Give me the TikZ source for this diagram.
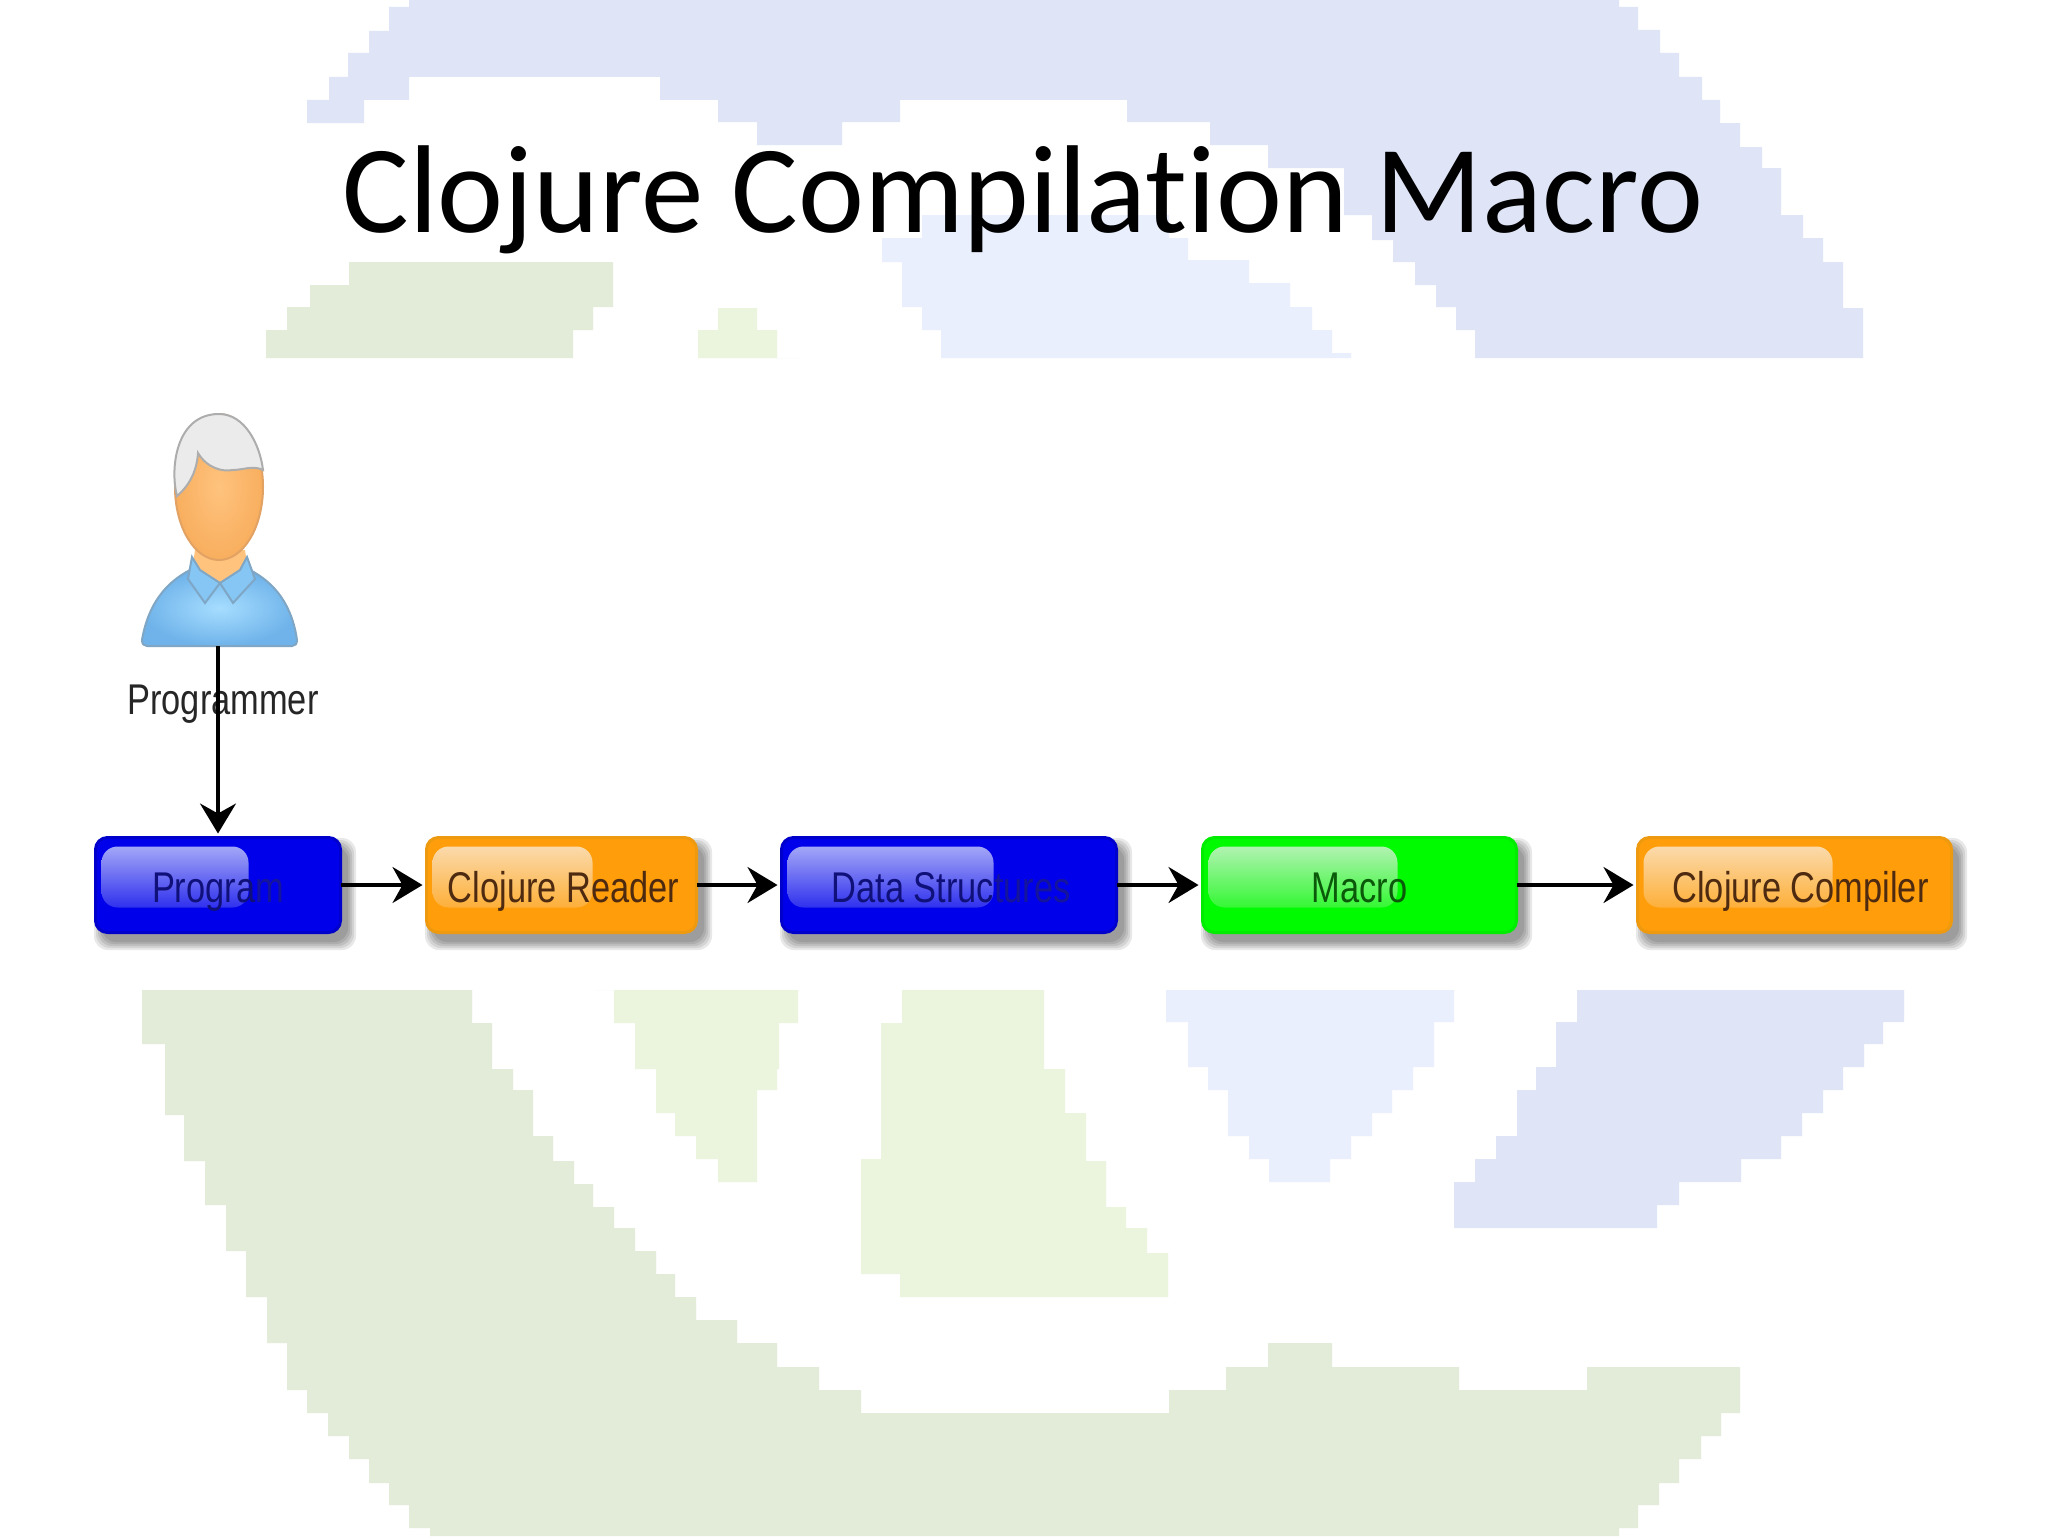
\documentclass[tikz,border=0pt]{standalone}
\usepackage{fontspec}
\setmainfont{Liberation Sans}
\newfontfamily\titlefont[Ligatures=NoCommon]{Carlito}
\newfontfamily\labfont[FakeStretch=0.8]{Liberation Sans}
\usetikzlibrary{arrows.meta}
\definecolor{bgblue}{HTML}{DFE5F7}
\definecolor{paleblue}{HTML}{E9EFFD}
\definecolor{bggreen}{HTML}{E3ECD9}
\definecolor{palegreen}{HTML}{EBF5DE}
\definecolor{boxblue}{HTML}{0000EA}
\definecolor{edgeblue}{HTML}{0000CC}
\definecolor{glossblue}{HTML}{B4B8F8}
\definecolor{boxorange}{HTML}{FF9E0A}
\definecolor{edgeorange}{HTML}{EE9A10}
\definecolor{glossorange}{HTML}{FAE0BC}
\definecolor{boxgreen}{HTML}{00FA00}
\definecolor{edgegreen}{HTML}{00EC00}
\definecolor{glossgreen}{HTML}{C4F2C4}
\definecolor{textblue}{HTML}{10107A}
\definecolor{fadeblue}{HTML}{14149C}
\definecolor{textorange}{HTML}{4E2A10}
\definecolor{textgreen}{HTML}{0A5A0A}
\definecolor{shirt}{HTML}{A6DDFF}
\definecolor{shirtedge}{HTML}{6FB3EA}
\definecolor{shirtline}{HTML}{7FA6C4}
\definecolor{collar}{HTML}{86C6F5}
\definecolor{skin}{HTML}{FFC37E}
\definecolor{skinedge}{HTML}{F8AE5E}
\definecolor{skinline}{HTML}{E2A264}
\newcommand{\softshadow}[4]{% x1 y1 x2 y2 of a box, in pixels
  \foreach \g in {7,5,3,1,-1}{
    \fill[black, opacity=0.09, rounded corners=7pt]
      (#1+6-\g,#2+9-\g) rectangle (#3+6+\g,#4+9+\g);
  }}
\tikzset{
  flowbox/.style n args={5}{
    draw=#2, line width=1.5pt, fill=#1, rounded corners=6pt,
    minimum height=47.5pt, inner sep=0pt, outer sep=0pt,
    font=\labfont\fontsize{21.5}{24}\selectfont, text height=19pt, text depth=2pt,
    text=#5,
    path picture={
      \shade[rounded corners=8pt, top color=#3, bottom color=#1]
        ([shift={(6,9)}]path picture bounding box.north west) rectangle ++(#4,61);
    }},
  bluebox/.style args={#1}{flowbox={boxblue}{edgeblue}{glossblue}{#1}{textblue}},
  orangebox/.style args={#1}{flowbox={boxorange}{edgeorange}{glossorange}{#1}{textorange}},
  greenbox/.style args={#1}{flowbox={boxgreen}{edgegreen}{glossgreen}{#1}{textgreen}},
  flowarrow/.style={line width=1.7pt, black, shorten >=2pt,
    -{Stealth[length=15pt,width=18pt,inset=5pt]}},
}
\begin{document}
\begin{tikzpicture}[x=0.5pt,y=-0.5pt]
\useasboundingbox (0,0) rectangle (2048,1536);
\fill[white] (0,0) rectangle (2048,1536);
% top blue band
\fill[bgblue] (409,0) |- (389,7) |- (369,31) |- (348,53) |- (329,77) |- (307,100) |- (364,123)
  |- (409,100) |- (660,77) |- (718,100) |- (757,122) |- (842,145) |- (900,122) |- (1127,100)
  |- (1210,122) |- (1268,145) |- (1344,168) |- (1372,215) |- (1393,240)
  |- (1415,262) |- (1436,285) |- (1456,307) |- (1475,330) |- (1475,358) -- (1863,358)
  |- (1843,308) |- (1823,262) |- (1803,238) |- (1781,215) |- (1762,168) |- (1740,147)
  |- (1720,123) |- (1702,100) |- (1679,77) |- (1660,53) |- (1638,30) |- (1619,7) |- (1619,0) -- cycle;
\fill[paleblue] (922,215) -- (1000,215) -| (1169,238) -| (1188,260) -| (1249,283) -| (1290,307)
  -| (1312,330) -| (1332,353) -| (1351,358) -- (941,358) |- (922,330) |- (902,307) |- (882,262)
  |- (922,238) -- cycle;
\fill[bggreen] (429,262) -- (613,262) |- (593,307) |- (573,330) |- (553,358) -- (266,358)
  |- (287,330) |- (310,307) |- (349,285) |- (409,262) -- cycle;
\fill[palegreen] (698,358) |- (718,330) |- (737,308) -- (757,308) |- (777,330) |- (800,358) -- cycle;
% bottom shapes
\fill[bggreen] (142,990) -- (472,990) |- (492,1023) |- (513,1069) |- (533,1090) |- (553,1136)
  |- (574,1161) |- (593,1184) |- (614,1207) |- (635,1228) |- (656,1251) |- (675,1274) |- (696,1297)
  |- (737,1320) |- (777,1343) |- (819,1367) |- (861,1390) |- (1169,1413) |- (1226,1390)
  |- (1268,1367) |- (1332,1343) |- (1459,1367) |- (1587,1390) |- (1740,1367) |- (1721,1413)
  |- (1701,1436) |- (1679,1459) |- (1659,1483) |- (1638,1505) |- (1619,1528) |- (1606,1536)
  -- (430,1536) |- (409,1528) |- (389,1505) |- (369,1483) |- (349,1459) |- (328,1436)
  |- (307,1413) |- (287,1390) |- (267,1343) |- (246,1297) |- (226,1251) |- (205,1205)
  |- (184,1161) |- (165,1115) |- (142,1044) -- cycle;
\fill[palegreen] (595,990) -- (798,990) |- (779,1023) |- (777,1069) |- (757,1090) |- (718,1182)
  |- (696,1159) |- (675,1136) |- (656,1113) |- (635,1069) |- (614,1023) |- (595,990) -- cycle;
\fill[palegreen] (902,990) -- (1044,990) |- (1065,1069) |- (1086,1113) |- (1106,1161) |- (1126,1207)
  |- (1147,1228) |- (1168,1253) |- (900,1297) |- (861,1274) |- (881,1159) |- (902,1023) -- cycle;
\fill[paleblue] (1166,990) -- (1454,990) |- (1434,1022) |- (1413,1067) |- (1392,1090) |- (1372,1113)
  |- (1351,1136) |- (1330,1159) |- (1269,1182) |- (1249,1159) |- (1228,1136) |- (1208,1090)
  |- (1188,1067) |- (1166,1022) -- cycle;
\fill[bgblue] (1577,990) -- (1904,990) |- (1883,1022) |- (1864,1044) |- (1843,1067) |- (1823,1090)
  |- (1802,1113) |- (1781,1136) |- (1741,1159) |- (1679,1182) |- (1657,1205) |- (1454,1228)
  |- (1475,1182) |- (1496,1159) |- (1517,1136) |- (1536,1090) |- (1556,1067) |- (1577,1022) -- cycle;
% title
\node[anchor=base, inner sep=0pt, font=\titlefont\fontsize{62.5}{70}\selectfont] (title) at (1023,232) {Clojure Compilation Macro};
% person
\node[inner sep=0pt, outer sep=0pt, minimum width=77.5pt, minimum height=116pt] (person) at (218,530) {};
\shadedraw[draw=shirtline, line width=1pt, inner color=shirt, outer color=shirtedge]
  (142,640) .. controls (148,605) and (165,583) .. (190,570) -- (250,570)
  .. controls (275,583) and (292,605) .. (297,640) .. controls (297,644) and (295,646) .. (292,646)
  -- (147,646) .. controls (144,646) and (142,644) .. (142,640) -- cycle;
\fill[skin] (195,550) -- (245,550) -- (248,570) -- (220,583) -- (192,570) -- cycle;
\filldraw[fill=collar, draw=shirtline, line width=1pt]
  (192,557) -- (188,579) -- (205,603) -- (220,583) -- (200,570) -- cycle;
\filldraw[fill=collar, draw=shirtline, line width=1pt]
  (247,557) -- (255,579) -- (233,603) -- (220,583) -- (240,570) -- cycle;
\shadedraw[draw=skinline, line width=1pt, inner color=skin, outer color=skinedge]
  (219,487) ellipse [x radius=44, y radius=73];
\filldraw[fill=black!8, draw=black!32, line width=1pt]
  (177,496) .. controls (170,470) and (175,414) .. (219,414)
  .. controls (245,414) and (260,445) .. (263,470)
  .. controls (253,465) and (243,470) .. (233,470)
  .. controls (222,472) and (207,468) .. (198,453)
  .. controls (197,470) and (190,485) .. (177,496) -- cycle;
\node[inner sep=0pt, font=\labfont\fontsize{21.5}{24}\selectfont, text=black!85, anchor=base] (plabel) at (223,714) {Programmer};
% flow
\softshadow{95}{836}{343}{934}
\softshadow{426}{836}{699}{934}
\softshadow{781}{836}{1119}{934}
\softshadow{1202}{836}{1519}{934}
\softshadow{1637}{836}{1954}{934}
\node[bluebox=147, minimum width=122.5pt] (prog) at (218,885) {Progra{\color{fadeblue}m}};
\node[orangebox=160, minimum width=135pt] (reader) at (561.5,885) {\hspace*{2pt}Clojure Reader};
\node[bluebox=206, minimum width=167.5pt] (data) at (949,885) {\hspace*{2pt}Data Struc{\color{fadeblue}tures}};
\node[greenbox=189, minimum width=157pt] (macro) at (1359.5,885) {Macro};
\node[orangebox=189, minimum width=157pt] (comp) at (1794.5,885) {\hspace*{6pt}Clojure Compiler};
\draw[flowarrow] (person.south) -- (prog.north);
\draw[flowarrow] (prog) -- (reader);
\draw[flowarrow] (reader) -- (data);
\draw[flowarrow] (data) -- (macro);
\draw[flowarrow] (macro) -- (comp);
\end{tikzpicture}
\end{document}
